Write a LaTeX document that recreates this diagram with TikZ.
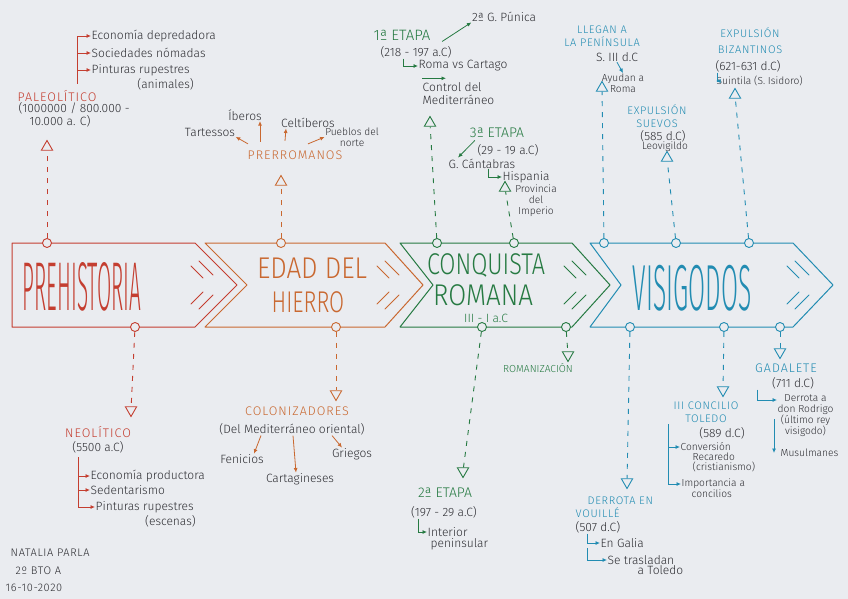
\documentclass[tikz,border=0pt]{standalone}
\usepackage{fontspec}
\setmainfont{Fira Sans Light}
\usetikzlibrary{arrows.meta, positioning, shapes.geometric}
\definecolor{paper}{RGB}{234,236,240}
\definecolor{prered}{RGB}{196,62,48}
\definecolor{ironorange}{RGB}{201,104,48}
\definecolor{romegreen}{RGB}{38,122,66}
\definecolor{visiblue}{RGB}{34,140,178}
\definecolor{ink}{RGB}{45,45,50}

\begin{document}
\begin{tikzpicture}[x=1pt, y=-1pt,
  txt/.style={font=\fontsize{12}{13}\selectfont, text=ink, inner sep=0.5pt, align=left},
  smalltxt/.style={txt, font=\fontsize{10.2}{10.8}\selectfont},
  head/.style={font=\fontsize{12.5}{14}\selectfont\addfontfeature{LetterSpace=8}, text=#1, inner sep=0.5pt, align=center},
  subhead/.style={head=#1, font=\fontsize{11}{13}\selectfont\addfontfeature{LetterSpace=6}},
  title/.style={font=\fontsize{20}{20}\selectfont, text=#1, inner sep=0pt},
  band/.style={draw=#1, line width=1pt, line join=round},
  speed/.style={draw=#1, line width=0.8pt, line cap=round},
  dot/.style={circle, draw=#1, fill=paper, line width=0.9pt, minimum size=9pt, inner sep=0pt},
  tri/.style={regular polygon, regular polygon sides=3, draw=#1, fill=paper, line width=0.9pt, minimum size=13pt, inner sep=0pt},
  tridown/.style={tri=#1, shape border rotate=180},
  link/.style={draw=#1, line width=0.9pt, dash pattern=on 5pt off 6pt},
  arr/.style={-{Latex[length=4.5pt, width=4pt]}, draw=#1, line width=0.8pt}
]
\fill[paper] (0,0) rectangle (848,599);
\useasboundingbox (0,0) rectangle (848,599);

% the four chevrons of the timeline
\draw[band=prered] (12,243) -- (195,243) -- (237,285) -- (195,327) -- (12,327) -- cycle;
\draw[band=ironorange] (205,243) -- (385,243) -- (423,285) -- (385,327) -- (205,327) -- (247,285) -- cycle;
\draw[band=romegreen] (400,243) -- (572,243) -- (610,285) -- (572,327) -- (400,327) -- (433,285) -- cycle;
\draw[band=visiblue] (590,243) -- (793,243) -- (833,285) -- (793,327) -- (590,327) -- (621,285) -- cycle;
\foreach \px/\col in {237/prered, 423/ironorange, 610/romegreen, 833/visiblue}{
  \draw[speed=\col] (\px-46,266) -- (\px-34,278) (\px-38,261) -- (\px-24,275)
                    (\px-46,304) -- (\px-34,292) (\px-38,309) -- (\px-24,295);
}

\node[title=prered] (pre title) at (82,287) {\scalebox{0.69}[2.3]{\fontsize{30}{30}\selectfont PREHISTORIA}};
\node[title=ironorange] (iron title a) at (312,268) {\scalebox{1.3}[1.5]{EDAD DEL}};
\node[title=ironorange] (iron title b) at (308,302) {\scalebox{1.09}[1.5]{HIERRO}};
\node[title=romegreen] (rom title a) at (486,265) {\scalebox{1.17}[1.5]{CONQUISTA}};
\node[title=romegreen] (rom title b) at (483,295) {\scalebox{1.3}[1.5]{ROMANA}};
\node[txt, text=romegreen] (rom dates) at (486,318) {III - I a.C};
\node[title=visiblue] (vis title) at (692,288) {\scalebox{0.82}[2.17]{\fontsize{30}{30}\selectfont VISIGODOS}};

% markers on the band
\node[dot=prered] (pre top) at (47,243) {};
\node[dot=prered] (pre bot) at (135,327) {};
\node[dot=ironorange] (iron top) at (281,243) {};
\node[dot=ironorange] (iron bot) at (336,327) {};
\node[dot=romegreen] (rom top a) at (437,243) {};
\node[dot=romegreen] (rom top b) at (514,243) {};
\node[dot=romegreen] (rom bot a) at (482,327) {};
\node[dot=romegreen] (rom bot b) at (566,327) {};
\node[dot=visiblue] (vis top a) at (604,243) {};
\node[dot=visiblue] (vis top b) at (676,243) {};
\node[dot=visiblue] (vis top c) at (749,243) {};
\node[dot=visiblue] (vis bot a) at (630,327) {};
\node[dot=visiblue] (vis bot b) at (724,327) {};
\node[dot=visiblue] (vis bot c) at (780,327) {};

% Prehistoria
\node[tri=prered] (pal tri) at (47,147) {};
\draw[link=prered] (pre top) -- (pal tri);
\node[head=prered, anchor=west] (paleo) at (17,96) {PALEOLÍTICO};
\node[txt, anchor=north west] (paleo date) at (18,102) {(1000000 / 800.000 -\\\hspace*{11pt}10.000 a. C)};
\coordinate (paleo brk) at (77,84);
\node[txt, anchor=west] (eco pred) at (91,36) {Economía depredadora};
\node[txt, anchor=west] (nomadas) at (91,53) {Sociedades nómadas};
\node[txt, anchor=west] (rup a) at (91,70) {Pinturas rupestres};
\node[txt, below left=1pt and -4pt of rup a.south east] (animales) {(animales)};
\draw[arr=prered] (paleo brk) |- (eco pred);
\draw[arr=prered] (paleo brk) |- (nomadas);
\draw[arr=prered] (paleo brk) |- (rup a);

\node[tridown=prered] (neo tri) at (131,410) {};
\draw[link=prered] (pre bot) -- (neo tri);
\node[head=prered] (neo) at (98,432) {NEOLÍTICO};
\node[txt] (neo date) at (98,447) {(5500 a.C)};
\coordinate (neo brk) at (78,457);
\node[txt, anchor=west] (eco prod) at (90,476) {Economía productora};
\node[txt, anchor=west] (sedent) at (90,490) {Sedentarismo};
\node[txt, anchor=west] (rup b) at (95,507) {Pinturas rupestres};
\node[txt, below left=1pt and -2pt of rup b.south east] (escenas) {(escenas)};
\draw[arr=prered] (neo brk) |- (eco prod);
\draw[arr=prered] (neo brk) |- (sedent);
\draw[arr=prered] (neo brk) |- (rup b);

\node[subhead=ink, anchor=west] (author) at (10,553) {NATALIA PARLA};
\node[subhead=ink, anchor=west] (course) at (15,571) {2º BTO A};
\node[subhead=ink, anchor=west] (date) at (5,588) {16-10-2020};

% Edad del Hierro
\node[tri=ironorange] (pre tri) at (281,182) {};
\draw[link=ironorange] (iron top) -- (pre tri);
\node[head=ironorange] (prerro) at (295,155) {PRERROMANOS};
\node[txt] (iberos) at (245,115) {Íberos};
\node[txt] (celtib) at (308,123) {Celtíberos};
\node[txt] (tartessos) at (210,132) {Tartessos};
\node[smalltxt, align=center] (norte) at (352,137) {Pueblos del\\norte};
\draw[arr=ironorange] ([xshift=-47pt,yshift=6pt]prerro.north) -- (tartessos.south east);
\draw[arr=ironorange] ([xshift=-35pt,yshift=8pt]prerro.north) -- ([xshift=15pt]iberos.south);
\draw[arr=ironorange] ([xshift=-10pt,yshift=9pt]prerro.north) -- ([xshift=-22pt]celtib.south);
\draw[arr=ironorange] ([xshift=13pt,yshift=6pt]prerro.north) -- (norte.west);

\node[tridown=ironorange] (col tri) at (336,394) {};
\draw[link=ironorange] (iron bot) -- (col tri);
\node[head=ironorange] (colon) at (297,411) {COLONIZADORES};
\node[txt] (colon sub) at (292,429) {(Del Mediterráneo oriental)};
\node[txt] (fenicios) at (242,459) {Fenicios};
\node[txt] (cartag) at (300,479) {Cartagineses};
\node[txt] (griegos) at (352,454) {Griegos};
\draw[arr=ironorange] ([xshift=-31pt]colon sub.south) -- ([xshift=12pt]fenicios.north);
\draw[arr=ironorange] ([xshift=1pt]colon sub.south) -- ([xshift=-4pt]cartag.north);
\draw[arr=ironorange] ([xshift=40pt]colon sub.south) -- ([xshift=-10pt]griegos.north);

% Conquista romana
\node[tri=romegreen] (et1 tri) at (430,123) {};
\draw[link=romegreen] (rom top a) -- (et1 tri);
\node[head=romegreen, font=\fontsize{15}{16}\selectfont] (et1) at (402,35) {1ª ETAPA};
\node[txt] (et1 date) at (416,52) {(218 - 197 a.C)};
\node[txt] (punica) at (504,17) {2ª G. Púnica};
\draw[arr=romegreen] ([xshift=-10pt,yshift=4pt]et1 date.north east) -- (punica.south west);
\node[txt, anchor=west] (roma vs) at (418,66) {Roma vs Cartago};
\draw[arr=romegreen] ([xshift=24pt]et1 date.south west) |- (roma vs.west);
\node[txt, anchor=west] (control) at (422,94) {Control del\\Mediterráneo};
\draw[arr=romegreen] ([yshift=4pt]control.north west) -- ([xshift=24pt,yshift=4pt]control.north west);

\node[tri=romegreen] (et3 tri) at (505,188) {};
\draw[link=romegreen] (rom top b) -- (et3 tri);
\node[head=romegreen, font=\fontsize{14}{15}\selectfont] (et3) at (497,133) {3ª ETAPA};
\node[txt] (et3 date) at (508,150) {(29 - 19 a.C)};
\node[txt] (cantab) at (482,164) {G. Cántabras};
\draw[arr=romegreen] ([xshift=-2pt,yshift=3pt]et3 date.north west) -- ([xshift=-24pt,yshift=1pt]cantab.north);
\node[txt, anchor=west] (hispania) at (502,177) {Hispania};
\draw[arr=romegreen] ([xshift=40pt]cantab.south west) |- (hispania.west);
\node[smalltxt, align=center] (provincia) at (536,201) {Provincia\\del\\Imperio};

\node[tridown=romegreen] (et2 tri) at (463,471) {};
\draw[link=romegreen] (rom bot a) -- (et2 tri);
\node[head=romegreen, font=\fontsize{14}{15}\selectfont] (et2) at (445,493) {2ª ETAPA};
\node[txt] (et2 date) at (444,512) {(197 - 29 a.C)};
\node[txt, anchor=west] (interior) at (427,532) {Interior};
\node[txt, below right=0pt and 3pt of interior.south west] (peninsular) {peninsular};
\draw[arr=romegreen] ([xshift=8pt]et2 date.south west) |- (interior.west);

\node[tridown=romegreen] (rmz tri) at (568,355) {};
\draw[link=romegreen] (rom bot b) -- (rmz tri);
\node[smalltxt, text=romegreen] (romaniz) at (538,368) {ROMANIZACIÓN};

% Visigodos
\node[tri=visiblue] (lleg tri) at (602,88) {};
\draw[link=visiblue] (vis top a) -- (lleg tri);
\node[subhead=visiblue] (llegan) at (602,36) {LLEGAN A\\LA PENÍNSULA};
\node[txt] (siglo) at (617,57) {S. III d.C};
\node[smalltxt, align=center] (ayudan) at (623,83) {Ayudan a\\Roma};
\draw[arr=visiblue] (siglo.south) -- (ayudan.north);

\node[tri=visiblue] (suev tri) at (667,158) {};
\draw[link=visiblue] (vis top b) -- (suev tri);
\node[subhead=visiblue] (suevos) at (657,116) {EXPULSIÓN\\SUEVOS};
\node[txt] (suev date) at (663,136) {(585 d.C)};
\node[smalltxt] (leovig) at (665,147) {Leovigildo};

\node[tri=visiblue] (biz tri) at (735,95) {};
\draw[link=visiblue] (vis top c) -- (biz tri);
\node[subhead=visiblue] (bizant) at (750,41) {EXPULSIÓN\\[3pt]BIZANTINOS};
\node[txt] (biz date) at (748,66) {(621-631 d.C)};
\node[smalltxt, anchor=west] (suintila) at (716,81) {Suintila (S. Isidoro)};
\draw[arr=visiblue] ([xshift=3pt]biz date.south west) |- (suintila.west);

\node[tridown=visiblue] (vou tri) at (627,482) {};
\draw[link=visiblue] (vis bot a) -- (vou tri);
\node[subhead=visiblue, anchor=west, align=left] (vouille) at (575,507) {\hspace*{12pt}DERROTA EN\\VOUILLÉ};
\node[txt, anchor=west] (vou date) at (575,527) {(507 d.C)};
\node[txt, anchor=west] (galia) at (600,543) {En Galia};
\node[txt, anchor=west] (trasladan) at (607,560) {Se trasladan};
\node[txt, below right=0pt and 30pt of trasladan.south west] (toledo) {a Toledo};
\draw[arr=visiblue] ([xshift=12pt]vou date.south west) |- (galia.west);
\draw[arr=visiblue] ([xshift=-13pt]galia.south west) |- (trasladan.west);

\node[tridown=visiblue] (conc tri) at (723,390) {};
\draw[link=visiblue] (vis bot b) -- (conc tri);
\node[subhead=visiblue] (concilio) at (706,412) {III CONCILIO\\TOLEDO};
\node[txt] (conc date) at (722,433) {(589 d.C)};
\coordinate (conc brk) at (668,424);
\node[smalltxt, anchor=west] (conversion) at (680,447) {Conversión};
\node[smalltxt, below right=0pt and 12pt of conversion.south west] (recaredo) {Recaredo\\(cristianismo)};
\node[smalltxt, anchor=west] (importancia) at (681,484) {Importancia a};
\node[smalltxt, below right=0pt and 10pt of importancia.south west] (concilios) {concilios};
\draw[arr=visiblue] (conc brk) |- (conversion.west);
\draw[arr=visiblue] (conc brk) |- (importancia.west);

\node[tridown=visiblue] (gua tri) at (780,352) {};
\draw[link=visiblue] (vis bot c) -- (gua tri);
\node[head=visiblue] (gadalete) at (786,368) {GADALETE};
\node[txt] (gua date) at (793,383) {(711 d.C)};
\node[smalltxt, align=center, anchor=north west] (derrota) at (777,394) {Derrota a\\don Rodrigo\\(último rey\\visigodo)};
\draw[arr=visiblue] ([xshift=-14pt]gua date.south west) |- ([yshift=-6pt]derrota.north west);
\node[smalltxt, anchor=west] (musulm) at (780,453) {Musulmanes};
\draw[arr=visiblue] ([xshift=-6pt,yshift=34pt]musulm.west) -- ([xshift=-6pt]musulm.west);
\end{tikzpicture}
\end{document}
